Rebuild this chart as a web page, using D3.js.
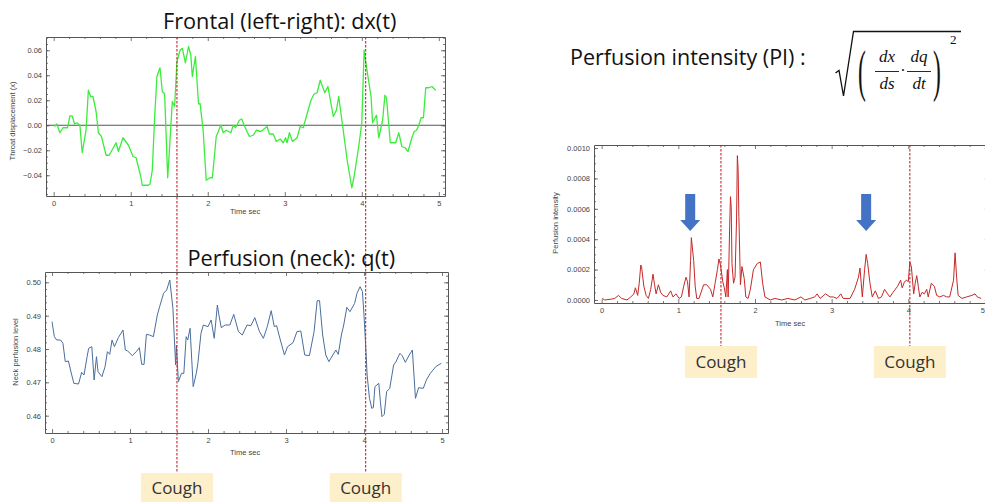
<!DOCTYPE html>
<html><head><meta charset="utf-8">
<script src="https://cdn.jsdelivr.net/npm/d3@7"></script>
<style>
body{margin:0;background:#fff;}
svg{display:block;}
.axis .domain{stroke:#555;stroke-width:1;}
.axis line{stroke:#555;stroke-width:0.8;}
.axis text{font-family:"Liberation Sans",Arial,sans-serif;font-size:7.5px;fill:#444;}
</style>
</head><body>
<svg id="c" width="985" height="502"></svg>
<script>
// ---------- DATA ----------
const timeTicks = [0, 1, 2, 3, 4, 5];
const dxTicks = [-0.04, -0.02, 0, 0.02, 0.04, 0.06];
const qTicks = [0.46, 0.47, 0.48, 0.49, 0.50];
const piTicks = [0, 0.0002, 0.0004, 0.0006, 0.0008, 0.0010];

const dxTime = [0.01,0.04,0.08,0.12,0.18,0.21,0.24,0.27,0.30,0.34,
0.37,0.42,0.45,0.48,0.51,0.55,0.58,0.62,0.68,0.72,
0.81,0.84,0.90,0.97,1.03,1.07,1.13,1.15,1.23,1.25,
1.28,1.31,1.34,1.38,1.41,1.44,1.48,1.51,1.54,1.57,
1.60,1.64,1.67,1.71,1.75,1.78,1.80,1.84,1.88,1.90,
1.94,1.98,2.03,2.06,2.11,2.17,2.20,2.24,2.30,2.33,
2.36,2.41,2.44,2.48,2.54,2.59,2.63,2.69,2.77,2.80,
2.85,2.89,2.94,2.98,3.01,3.03,3.06,3.10,3.16,3.20,
3.24,3.28,3.34,3.38,3.42,3.46,3.52,3.56,3.63,3.67,
3.70,3.75,3.81,3.87,3.90,3.96,4.00,4.03,4.05,4.12,
4.14,4.19,4.22,4.27,4.30,4.32,4.37,4.44,4.48,4.52,
4.56,4.60,4.65,4.68,4.71,4.74,4.77,4.80,4.83,4.87,
4.91,4.96];
const dxValue = [-0.001,0.001,-0.006,-0.002,-0.002,0.0075,0.0075,0.001,0.002,0,
-0.022,-0.004,0.028,0.023,0.023,0.011,-0.006,-0.009,-0.024,-0.024,
-0.014,-0.021,-0.010,-0.016,-0.025,-0.026,-0.041,-0.048,-0.048,-0.047,
-0.036,0.006,0.039,0.046,0.027,0.025,-0.042,-0.012,0.019,0.015,
0.051,0.060,0.0615,0.050,0.063,0.056,0.039,0.055,0.017,0.0175,
-0.004,-0.044,-0.042,-0.042,-0.009,0,-0.006,-0.004,-0.006,0,
-0.002,0.004,0.005,-0.001,-0.009,-0.008,-0.004,-0.005,-0.001,-0.007,
-0.007,-0.013,-0.011,-0.014,-0.010,-0.014,-0.006,-0.013,-0.010,-0.001,
-0.002,0.007,0.020,0.025,0.026,0.036,0.026,0.031,0.007,0.012,
0.023,0,-0.028,-0.050,-0.041,-0.017,0.002,0.060,0.051,0.023,
0.002,0.008,-0.010,0.004,0.024,0.022,-0.014,-0.014,-0.006,-0.017,
-0.018,-0.021,-0.010,-0.005,-0.004,0,0.006,0.006,0.030,0.030,
0.031,0.028];

const qTime = [0,0.03,0.06,0.11,0.14,0.17,0.21,0.24,0.28,0.34,
0.38,0.41,0.45,0.47,0.51,0.54,0.57,0.59,0.64,0.68,
0.71,0.74,0.77,0.80,0.85,0.91,0.94,0.97,1.03,1.08,
1.12,1.15,1.18,1.21,1.25,1.30,1.35,1.38,1.43,1.47,
1.51,1.55,1.585,1.595,1.62,1.66,1.69,1.72,1.74,1.77,
1.81,1.85,1.87,1.91,1.94,2.00,2.04,2.08,2.12,2.14,
2.17,2.22,2.28,2.33,2.39,2.44,2.50,2.55,2.60,2.66,
2.71,2.76,2.81,2.85,2.88,2.91,2.98,3.02,3.09,3.14,
3.19,3.24,3.30,3.36,3.40,3.43,3.47,3.51,3.55,3.60,
3.64,3.67,3.71,3.74,3.78,3.82,3.88,3.91,3.95,3.98,
4.00,4.02,4.04,4.07,4.10,4.12,4.14,4.19,4.21,4.23,
4.26,4.29,4.33,4.38,4.41,4.46,4.49,4.53,4.58,4.62,
4.66,4.70,4.76,4.80,4.85,4.92,4.99];
const qValue = [0.4882,0.4837,0.4827,0.4827,0.4817,0.4762,0.4764,0.4734,0.4697,0.4695,
0.4730,0.4722,0.4777,0.4802,0.4807,0.4707,0.4777,0.4732,0.4717,0.4747,
0.4792,0.4784,0.4827,0.4807,0.4834,0.4857,0.4797,0.4794,0.4780,0.4792,
0.4804,0.4754,0.4754,0.4844,0.4842,0.4837,0.4902,0.4927,0.4967,0.4977,
0.5007,0.4922,0.4752,0.4812,0.4702,0.4727,0.4727,0.4837,0.4827,0.4862,
0.4687,0.4727,0.4757,0.4847,0.4872,0.4867,0.4887,0.4832,0.4932,0.4902,
0.4864,0.4872,0.4872,0.4904,0.4852,0.4842,0.4872,0.4870,0.4894,0.4852,
0.4832,0.4867,0.4915,0.4867,0.4870,0.4842,0.4782,0.4807,0.4819,0.4852,
0.4854,0.4782,0.4780,0.4852,0.4945,0.4945,0.4842,0.4782,0.4762,0.4782,
0.4797,0.4784,0.4842,0.4872,0.4925,0.4912,0.4937,0.4967,0.4987,0.4972,
0.4902,0.4817,0.4722,0.4652,0.4622,0.4624,0.4687,0.4697,0.4642,0.4597,
0.4604,0.4672,0.4682,0.4752,0.4762,0.4787,0.4780,0.4760,0.4782,0.4797,
0.4652,0.4684,0.4682,0.4707,0.4727,0.4747,0.4757];

const piTime = [0.01,0.04,0.11,0.17,0.22,0.26,0.33,0.38,0.42,0.44,
0.47,0.49,0.51,0.52,0.55,0.58,0.61,0.64,0.67,0.69,
0.71,0.74,0.77,0.80,0.85,0.90,0.93,0.97,1.01,1.04,
1.07,1.10,1.12,1.14,1.16,1.17,1.20,1.22,1.24,1.27,
1.33,1.37,1.42,1.45,1.48,1.51,1.53,1.55,1.58,1.60,
1.62,1.64,1.65,1.67,1.68,1.69,1.70,1.72,1.74,1.76,
1.77,1.78,1.79,1.81,1.83,1.86,1.88,1.91,1.94,1.98,
2.03,2.07,2.10,2.13,2.20,2.26,2.35,2.43,2.52,2.60,
2.65,2.72,2.78,2.81,2.85,2.92,2.98,3.02,3.07,3.12,
3.15,3.24,3.30,3.35,3.37,3.40,3.43,3.45,3.47,3.50,
3.53,3.57,3.61,3.65,3.69,3.73,3.76,3.80,3.86,3.90,
3.92,3.95,3.98,4.00,4.02,4.04,4.07,4.09,4.11,4.13,
4.15,4.18,4.21,4.24,4.26,4.30,4.34,4.37,4.41,4.46,
4.50,4.54,4.59,4.61,4.63,4.65,4.70,4.76,4.83,4.87,
4.90,4.95];
const piValue = [0.00001,0,0.000004,0.00001,0.00003,0.00001,0,0.00002,0.00004,0.00008,
0.00003,0.00011,0.00023,0.00022,0.00009,0.00003,0.00001,0.00007,0.00017,0.0001,
0.00004,0.0001,0.00005,0.00003,0.00002,0.00006,0.00002,0.00004,0.00001,0.00002,
0.00009,0.00015,0.00012,0.00002,0.00026,0.00041,0.00026,0.00009,0.00001,0.00001,
0.0001,0.0001,0.00007,0.00002,0.00011,0.0002,0.00027,0.00023,0.00012,0.00008,
0.00002,0.0002,0.00002,0.00049,0.00068,0.00061,0.00024,0.00011,0.00015,0.00054,
0.00095,0.00086,0.00055,0.0001,0.00022,0.00014,0.00002,0.00001,0.00007,0.0002,
0.00024,0.00025,0.00011,0.00002,0,0.00001,0,0.00001,0,0.00002,
0,0.00001,0.00002,0.00004,0.00001,0.00004,0.00002,0.00002,0.00001,0.00004,
0.00001,0.00001,0.00007,0.00015,0.00021,0.00002,0.0002,0.0003,0.00024,0.00011,
0.00002,0.00006,0.00001,0.00002,0.00007,0.00004,0.00002,0.00005,0.00009,0.00013,
0.00008,0.00012,0.00013,0.00012,0.00025,0.00022,0.00004,0.00011,0.00016,0.00009,
0.00002,0.00005,0.00004,0.00007,0.00002,0.00011,0.00009,0.00003,0.00002,0.00003,
0.00002,0.00002,0.00013,0.00031,0.00015,0.00003,0.00001,0.00002,0.00003,0.00004,
0.00002,0.00001];

const coughTimes = [1.6, 4.05];
const piCoughTimes = [1.556, 4.02];
const piArrowTimes = [1.155, 3.45];
const coughLabel = "Cough";

// ---------- DRAWING ----------
const svg = d3.select("#c");

function panel(cfg) {
  const x = d3.scaleLinear().domain(cfg.xd).range([cfg.left, cfg.right]);
  const y = d3.scaleLinear().domain(cfg.yd).range([cfg.bottom, cfg.top]);
  const g = svg.append("g");
  const xMinor = d3.range(0, 5.0001, 0.2).filter(v => Math.abs(v - Math.round(v)) > 1e-6);
  const yMinor = d3.range(cfg.yd[0], cfg.yd[1], cfg.yMinorStep)
      .map(v => Math.round(v / cfg.yMinorStep) * cfg.yMinorStep)
      .filter(v => v >= cfg.yd[0] && v <= cfg.yd[1]);
  const fmt = cfg.yFormat;
  const mk = (axis, scale, vals, size, labels, pad) => axis(scale).tickValues(vals)
      .tickSizeInner(-size).tickSizeOuter(0).tickPadding(pad)
      .tickFormat(labels ? labels : "");
  const bottomAxis = g.append("g").attr("class", "axis").attr("transform", `translate(0,${cfg.bottom})`)
    .call(mk(d3.axisBottom, x, timeTicks, 4, d3.format("d"), 5));
  g.append("g").attr("class", "axis").attr("transform", `translate(0,${cfg.bottom})`)
    .call(mk(d3.axisBottom, x, xMinor, 2, null, 5)).select(".domain").remove();
  g.append("g").attr("class", "axis").attr("transform", `translate(0,${cfg.top})`)
    .call(mk(d3.axisTop, x, timeTicks, 4, null, 5));
  g.append("g").attr("class", "axis").attr("transform", `translate(0,${cfg.top})`)
    .call(mk(d3.axisTop, x, xMinor, 2, null, 5)).select(".domain").remove();
  g.append("g").attr("class", "axis").attr("transform", `translate(${cfg.left},0)`)
    .call(mk(d3.axisLeft, y, cfg.yTicks, 4, fmt, 4));
  g.append("g").attr("class", "axis").attr("transform", `translate(${cfg.left},0)`)
    .call(mk(d3.axisLeft, y, yMinor, 2, null, 4)).select(".domain").remove();
  g.append("g").attr("class", "axis").attr("transform", `translate(${cfg.right},0)`)
    .call(mk(d3.axisRight, y, cfg.yTicks, 4, null, 4));
  g.append("g").attr("class", "axis").attr("transform", `translate(${cfg.right},0)`)
    .call(mk(d3.axisRight, y, yMinor, 2, null, 4)).select(".domain").remove();
  // keep edge labels inside the canvas
  bottomAxis.selectAll(".tick text").each(function(d) {
    const px = x(d);
    if (px > 980) d3.select(this).attr("text-anchor", "end").attr("dx", 985 - px - 0.5);
  });
  g.append("text").attr("x", cfg.xTitle[0]).attr("y", cfg.xTitle[1])
    .attr("font-family", "Liberation Sans, Arial, sans-serif").attr("font-size", 7.5)
    .attr("fill", "#444").text("Time sec");
  g.append("text").attr("transform", `translate(${cfg.yTitle[0]},${cfg.yTitle[1]}) rotate(-90)`)
    .attr("text-anchor", "middle")
    .attr("font-family", "Liberation Sans, Arial, sans-serif").attr("font-size", 7.5)
    .attr("fill", "#444").text(cfg.yLabel);
  return {x, y, g};
}

// ---- Top-left: dx(t)
const p1 = panel({left: 46, right: 445, top: 37, bottom: 196,
  xd: [-0.1, 5.08], yd: [-0.0566, 0.0706], yTicks: dxTicks, yMinorStep: 0.005,
  yFormat: d => d === 0 ? "0.00" : d3.format(".2f")(d).replace("-", "\u2212"),
  xTitle: [230, 214], yTitle: [15, 121], yLabel: "Throat displacement (x)"});
p1.g.append("line").attr("x1", 46).attr("x2", 445)
  .attr("y1", p1.y(0)).attr("y2", p1.y(0)).attr("stroke", "#555").attr("stroke-width", 1);
p1.g.append("path").datum(d3.range(dxTime.length))
  .attr("fill", "none").attr("stroke", "#3cec3c").attr("stroke-width", 1.3)
  .attr("stroke-linejoin", "round")
  .attr("d", d3.line().x(i => p1.x(dxTime[i])).y(i => p1.y(dxValue[i])));

// ---- Bottom-left: q(t)
const p2 = panel({left: 45, right: 448, top: 272, bottom: 433,
  xd: [-0.09, 5.077], yd: [0.4548, 0.5031], yTicks: qTicks, yMinorStep: 0.002,
  yFormat: d3.format(".2f"),
  xTitle: [230, 455], yTitle: [18, 352], yLabel: "Neck perfusion level"});
p2.g.append("path").datum(d3.range(qTime.length))
  .attr("fill", "none").attr("stroke", "#4a6e9c").attr("stroke-width", 1)
  .attr("stroke-linejoin", "round")
  .attr("d", d3.line().x(i => p2.x(qTime[i])).y(i => p2.y(qValue[i])));

// ---- Right: PI
const p3 = panel({left: 594, right: 988.8, top: 145, bottom: 303,
  xd: [-0.1, 5.05], yd: [-0.00002, 0.00102], yTicks: piTicks, yMinorStep: 0.00005,
  yFormat: d3.format(".4f"),
  xTitle: [775, 326], yTitle: [558, 223], yLabel: "Perfusion intensity"});
p3.g.append("path").datum(d3.range(piTime.length))
  .attr("fill", "none").attr("stroke", "#c62828").attr("stroke-width", 1)
  .attr("stroke-linejoin", "round")
  .attr("d", d3.line().x(i => p3.x(piTime[i])).y(i => p3.y(piValue[i])));

// arrows
piArrowTimes.forEach(t => {
  const cx = p3.x(t);
  svg.append("path").attr("fill", "#4472c4")
    .attr("d", `M${cx-5},194 L${cx+5},194 L${cx+5},220 L${cx+10},220 L${cx},231 L${cx-10},220 L${cx-5},220 Z`);
});

// cough markers
const coughG = svg.append("g");
coughTimes.forEach(t => {
  const cx = p1.x(t);
  coughG.append("line").attr("x1", cx).attr("x2", cx).attr("y1", 37).attr("y2", 473)
    .attr("stroke", "#c0282d").attr("stroke-width", 1.1).attr("stroke-dasharray", "2.5,1.5");
  coughG.append("rect").attr("x", cx - 36).attr("y", 473).attr("width", 72).attr("height", 29)
    .attr("fill", "#fdefc9");
  coughG.append("text").attr("x", cx).attr("y", 494).attr("text-anchor", "middle")
    .attr("font-family", "Open Sans, sans-serif").attr("font-size", 17).attr("fill", "#333")
    .text(coughLabel);
});
piCoughTimes.forEach(t => {
  const cx = p3.x(t);
  coughG.append("line").attr("x1", cx).attr("x2", cx).attr("y1", 145).attr("y2", 346)
    .attr("stroke", "#c0282d").attr("stroke-width", 1.1).attr("stroke-dasharray", "2.5,1.5");
  coughG.append("rect").attr("x", cx - 36).attr("y", 346).attr("width", 72).attr("height", 32)
    .attr("fill", "#fdefc9");
  coughG.append("text").attr("x", cx).attr("y", 368).attr("text-anchor", "middle")
    .attr("font-family", "Open Sans, sans-serif").attr("font-size", 17).attr("fill", "#333")
    .text(coughLabel);
});

// titles
const titleFont = "Open Sans, Noto Sans, sans-serif";
svg.append("text").attr("x", 163).attr("y", 28.5)
  .attr("font-family", titleFont).attr("font-size", 21.7).attr("fill", "#111")
  .text("Frontal (left-right): dx(t)");
svg.append("text").attr("x", 187.5).attr("y", 265.5)
  .attr("font-family", titleFont).attr("font-size", 21.7).attr("fill", "#111")
  .text("Perfusion (neck): q(t)");
svg.append("text").attr("x", 570).attr("y", 64.5)
  .attr("font-family", titleFont).attr("font-size", 21.5).attr("fill", "#111")
  .text("Perfusion intensity (PI) :");

// formula
const fg = svg.append("g").attr("fill", "#111");
const serif = "Liberation Serif, Times New Roman, serif";
fg.append("path").attr("fill", "none").attr("stroke", "#111").attr("stroke-width", 1.3)
  .attr("stroke-linejoin", "miter")
  .attr("d", "M835.5,73 L839,70.5 L843.5,96 L853.5,31.5 L961,31.5");
fg.append("text").attr("transform", "translate(858,89.5) scale(0.42,1)")
  .attr("font-family", serif).attr("font-size", 56).text("(");
fg.append("text").attr("transform", "translate(933,89.5) scale(0.42,1)")
  .attr("font-family", serif).attr("font-size", 56).text(")");
[["dx", "ds", 887], ["dq", "dt", 919]].forEach(([n, d, cx]) => {
  fg.append("text").attr("x", cx).attr("y", 62).attr("text-anchor", "middle")
    .attr("font-family", serif).attr("font-style", "italic").attr("font-size", 17).text(n);
  fg.append("line").attr("x1", cx - 12).attr("x2", cx + 12).attr("y1", 71.5).attr("y2", 71.5)
    .attr("stroke", "#111").attr("stroke-width", 0.9);
  fg.append("text").attr("x", cx).attr("y", 89).attr("text-anchor", "middle")
    .attr("font-family", serif).attr("font-style", "italic").attr("font-size", 17).text(d);
});
fg.append("text").attr("x", 903).attr("y", 76).attr("text-anchor", "middle")
  .attr("font-family", serif).attr("font-size", 16).text("\u00b7");
fg.append("text").attr("x", 950).attr("y", 44)
  .attr("font-family", serif).attr("font-size", 13).text("2");
</script>
</body></html>
